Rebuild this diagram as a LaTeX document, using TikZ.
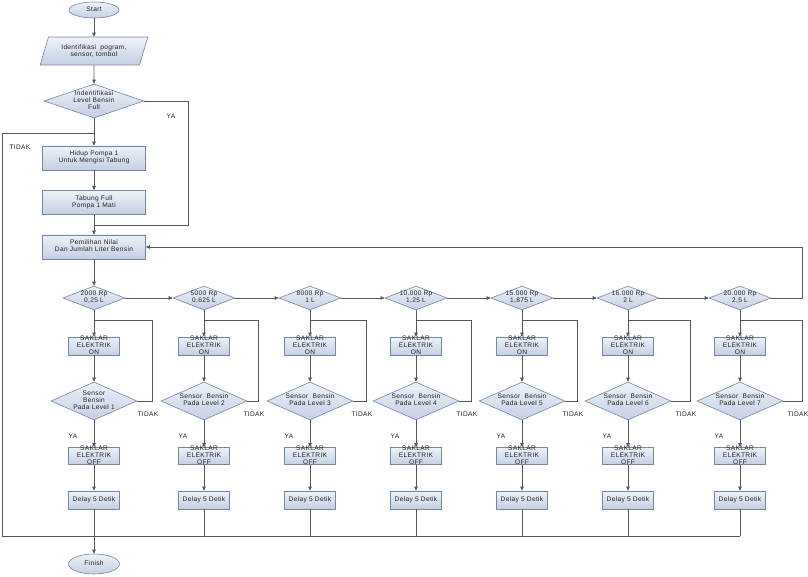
\documentclass[tikz,border=0pt]{standalone}
\usepackage{fontspec}
\setmainfont{Liberation Sans}[LetterSpace=5]
\usetikzlibrary{shapes.geometric,arrows.meta}
\definecolor{bordc}{HTML}{7586A3}
\definecolor{topc}{HTML}{EEF2F9}
\definecolor{botc}{HTML}{C3CFE3}
\definecolor{linec}{HTML}{555555}
\definecolor{txtc}{HTML}{222222}
\newcommand\zt[1]{\makebox[0pt]{\raisebox{\dimexpr(\depth-\height)/2\relax}[0pt][0pt]{\begin{tabular}{@{}c@{}}#1\end{tabular}}}}
\begin{document}
\begin{tikzpicture}[x=1pt,y=-1pt,
  font=\fontsize{6.6}{7}\selectfont, text=txtc,
  shp/.style={draw=bordc, top color=topc, bottom color=botc, inner sep=0pt, line width=0.6pt},
  box/.style={shp, rectangle, minimum width=51pt, minimum height=18pt},
  bigbox/.style={shp, rectangle, minimum width=103pt, minimum height=24pt},
  dec/.style={shp, diamond, aspect=2.5},
  ell/.style={shp, ellipse},
  para/.style={shp, trapezium, trapezium left angle=72, trapezium right angle=108, trapezium stretches=true, inner xsep=4pt, inner ysep=4pt, align=center, minimum width=108pt, minimum height=28pt},
  lbl/.style={inner sep=0pt},
  conn/.style={draw=linec, line width=0.7pt},
  arr/.style={-{Triangle[length=4pt,width=3.5pt]}}]
\useasboundingbox (0,0) rectangle (808,577);

% main column
\node[ell, minimum width=50pt, minimum height=16pt] (start) at (94,10) {\zt{Start}};
\node[para] (io) at (94,51) {Identifikasi\ \ pogram,\\sensor, tombol};
\node[dec, minimum width=100pt, minimum height=34pt] (d0) at (94,101) {\zt{Indentifikasi\\Level Bensin\\Full}};
\node[bigbox] (hidup) at (94,158) {\zt{Hidup Pompa 1\\Untuk Mengisi Tabung}};
\node[bigbox] (tabung) at (94,202.5) {\zt{Tabung Full\\Pompa 1 Mati}};
\node[bigbox] (pilih) at (94,247) {\zt{Pemilihan Nilai\\Dan Jumlah Liter Bensin}};
\node[ell, minimum width=51pt, minimum height=20pt] (finish) at (94,564) {\zt{Finish}};

\node[lbl] (ya0) at (171,116) {YA};
\node[lbl] (tidak0) at (20,147) {TIDAK};

\draw[conn,arr] (start) -- (io);
\draw[conn,arr] (io) -- (d0);
\draw[conn,arr] (d0) -- (hidup);
\draw[conn,arr] (hidup) -- (tabung);
\draw[conn,arr] (tabung) -- (pilih);

\coordinate (yaC) at (188,225);
\coordinate (jya) at (94,225);
\draw[conn] (d0.east) -| (yaC) -- (jya);

\coordinate (jt) at (94,133);
\coordinate (lft) at (2,133);
\coordinate (bot) at (2,536);

% value diamonds
\foreach \i/\x/\val in {1/94/{2000 Rp\\0,25 L}, 2/204/{5000 Rp\\0,625 L}, 3/310/{8000 Rp\\1 L}, 4/416/{10.000 Rp\\1,25 L}, 5/522/{15.000 Rp\\1,875 L}, 6/628/{16.000 Rp\\2 L}, 7/740/{20.000 Rp\\2,5 L}}{
  \node[dec, minimum width=62pt, minimum height=24pt] (v\i) at (\x,298) {\zt{\val}};
}
\draw[conn,arr] (pilih) -- (v1);
\foreach \i [evaluate=\i as \j using int(\i+1)] in {1,...,6}{
  \draw[conn,arr] (v\i) -- (v\j);
}
\coordinate (rt) at (802,298);
\draw[conn,arr] (v7.east) -- (rt) |- (pilih.east);

% columns
\foreach \i/\x/\lx/\sens in {1/94/152/{Sensor\\Bensin\\Pada Level 1}, 2/204/258/{Sensor\ \ Bensin\\Pada Level 2}, 3/310/366/{Sensor\ \ Bensin\\Pada Level 3}, 4/416/471/{Sensor\ \ Bensin\\Pada Level 4}, 5/522/577/{Sensor\ \ Bensin\\Pada Level 5}, 6/628/690/{Sensor\ \ Bensin\\Pada Level 6}, 7/740/802/{Sensor\ \ Bensin\\Pada Level 7}}{
  \node[box] (on\i) at (\x,346) {\zt{SAKLAR\\ELEKTRIK\\ON}};
  \node[dec, minimum width=86pt, minimum height=38pt] (s\i) at (\x,401) {\zt{\sens}};
  \node[box, minimum height=17pt] (off\i) at (\x,456) {\zt{SAKLAR\\ELEKTRIK\\OFF}};
  \node[box] (dl\i) at (\x,500) {\zt{Delay 5 Detik}};
  \node[lbl] (tidak\i) at (\lx-4,414) {TIDAK};
  \node[lbl] (ya\i) at (\x-21,436) {YA};
  \coordinate (lt\i) at (\lx,320);
  \coordinate (lj\i) at (\x,320);
  \draw[conn,arr] (v\i) -- (on\i);
  \draw[conn,arr] (on\i) -- (s\i);
  \draw[conn,arr] (s\i) -- (off\i);
  \draw[conn,arr] (off\i) -- (dl\i);
  \draw[conn] (s\i.east) -| (lt\i) -- (lj\i);
}
\foreach \i in {2,...,7}{
  \draw[conn] (dl\i) -- (dl\i |- bot);
}
\draw[conn] (jt) -- (lft) -- (bot) -- (dl7 |- bot);
\draw[conn,arr] (dl1) -- (finish);
\end{tikzpicture}
\end{document}
